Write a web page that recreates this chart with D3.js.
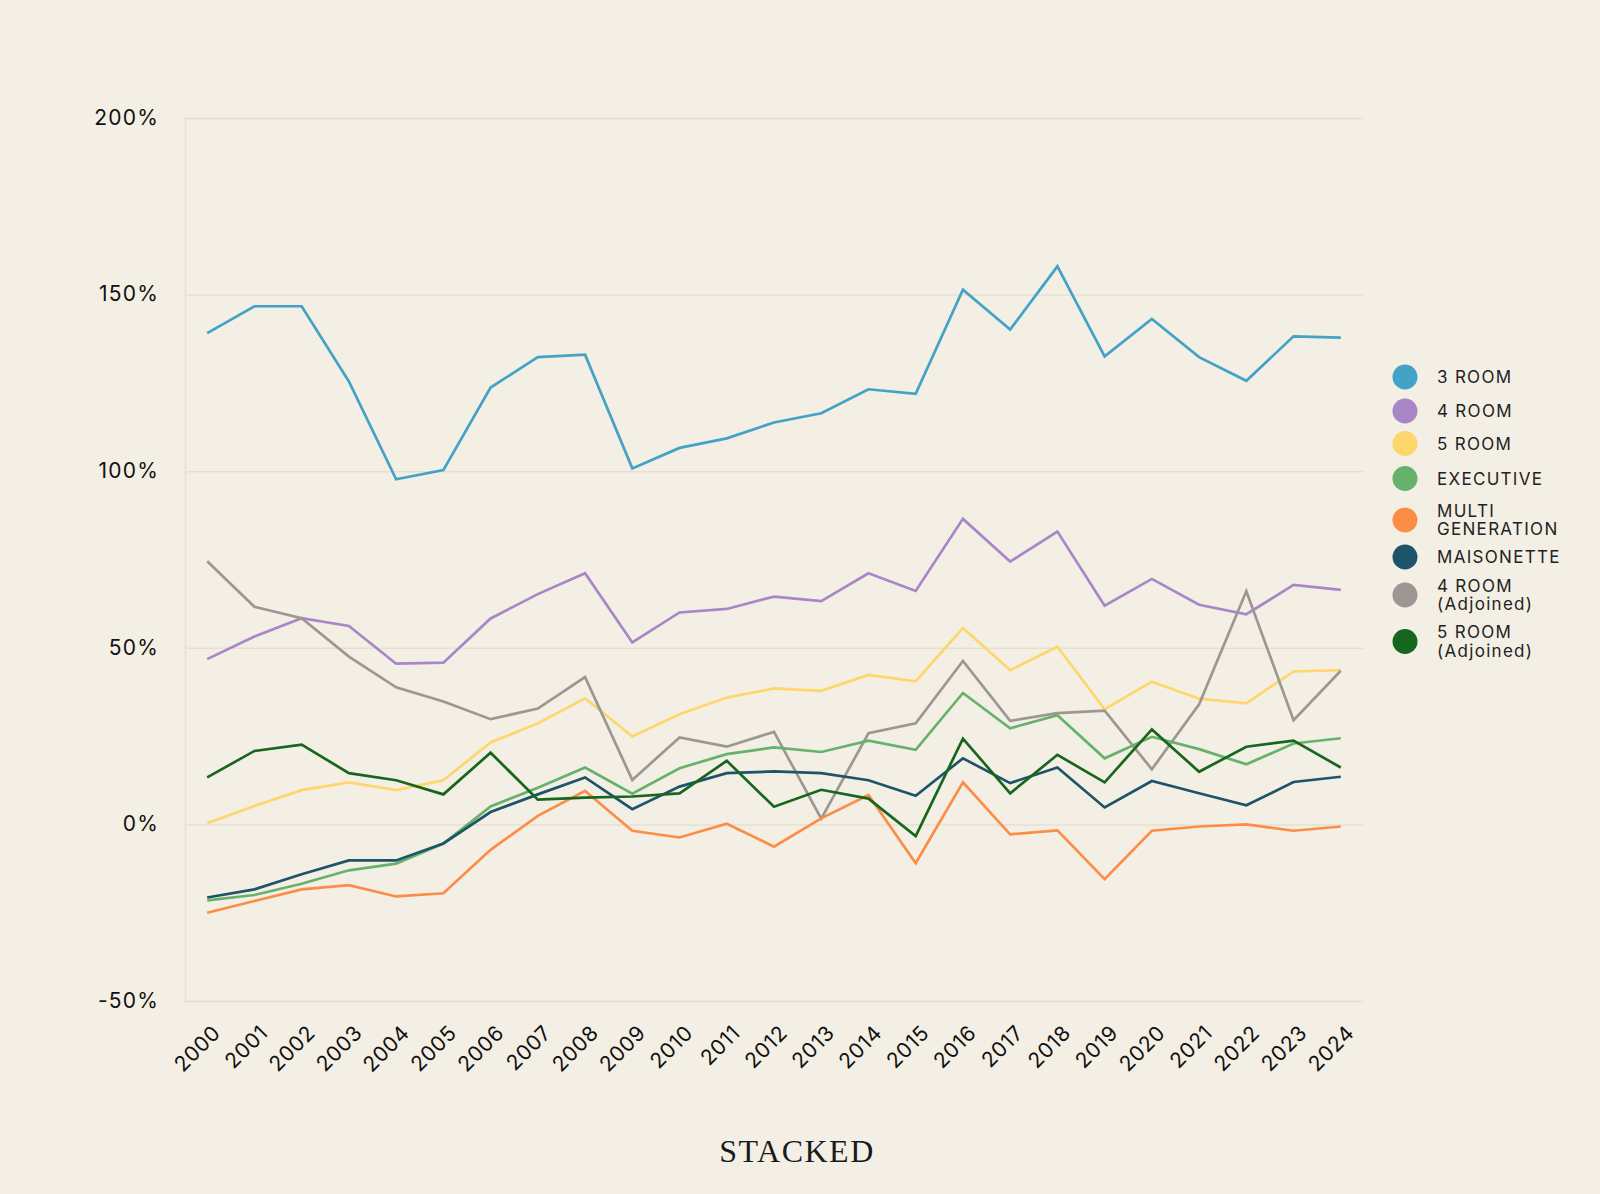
<!DOCTYPE html>
<html>
<head>
<meta charset="utf-8">
<script src="https://cdn.jsdelivr.net/npm/d3@7"></script>
<style>
  html, body { margin: 0; padding: 0; background: #f4efe4; }
  svg { display: block; }
</style>
</head>
<body>
<svg id="chart" width="1600" height="1194"></svg>
<script>
const years = ["2000","2001","2002","2003","2004","2005","2006","2007","2008","2009","2010","2011","2012","2013","2014","2015","2016","2017","2018","2019","2020","2021","2022","2023","2024"];
const yTicks = [-50, 0, 50, 100, 150, 200];

const room3 = [139.1,146.7,146.7,125.4,97.7,100.3,123.7,132.3,133.0,100.8,106.6,109.3,113.8,116.4,123.2,121.9,151.4,140.1,158.0,132.5,143.1,132.3,125.6,138.2,137.8];
const room4 = [46.8,53.2,58.4,56.2,45.5,45.8,58.3,65.2,71.1,51.5,60.0,61.0,64.5,63.2,71.1,66.1,86.5,74.4,82.9,61.9,69.5,62.2,59.5,67.8,66.4];
const room5 = [0.3,5.2,9.7,11.9,9.7,12.5,23.2,28.6,35.7,24.9,31.2,35.9,38.5,37.8,42.3,40.5,55.6,43.7,50.3,32.6,40.4,35.6,34.3,43.3,43.7];
const executive = [-21.5,-20.0,-16.8,-13.0,-11.1,-5.4,5.1,10.4,16.1,8.7,15.9,19.9,21.8,20.5,23.7,21.1,37.2,27.2,30.9,18.7,24.8,21.3,17.0,22.9,24.4];
const multiGen = [-25.0,-21.7,-18.4,-17.2,-20.4,-19.5,-7.2,2.4,9.5,-1.8,-3.7,0.2,-6.3,1.7,8.3,-11.0,11.9,-2.8,-1.7,-15.5,-1.8,-0.6,0.0,-1.8,-0.6];
const maisonette = [-20.7,-18.4,-14.1,-10.2,-10.2,-5.4,3.5,8.5,13.3,4.3,10.7,14.5,15.0,14.5,12.5,8.1,18.7,11.7,16.1,4.8,12.3,8.8,5.4,12.0,13.5];
const room4Adj = [74.5,61.6,58.4,47.5,38.8,34.8,29.8,32.8,41.7,12.6,24.6,22.0,26.2,1.6,25.8,28.6,46.3,29.3,31.5,32.2,15.6,34.0,66.0,29.5,43.5];
const room5Adj = [13.3,20.8,22.6,14.5,12.5,8.5,20.3,7.0,7.6,7.9,8.8,18.0,5.0,9.8,7.3,-3.3,24.3,8.8,19.7,11.9,26.9,14.9,22.0,23.7,16.1];

const seriesNames = ["3 ROOM","4 ROOM","5 ROOM","EXECUTIVE","MULTI\nGENERATION","MAISONETTE","4 ROOM\n(Adjoined)","5 ROOM\n(Adjoined)"];
const seriesValues = [room3, room4, room5, executive, multiGen, maisonette, room4Adj, room5Adj];
const seriesColors = ["#43a2c6","#a886c8","#fdd76b","#66b26c","#fc8d47","#1e5469","#9d9794","#17661f"];
// draw order (bottom to top)
const drawOrder = [0,1,2,6,3,5,4,7];

const svg = d3.select("#chart");
const plotLeft = 185, plotRight = 1363, plotTop = 118, plotBottom = 1001;

const x = d3.scalePoint().domain(years).range([plotLeft, plotRight]).padding(0.47);
const y = d3.scaleLinear().domain([-50, 200]).range([plotBottom, plotTop]);

const gridColor = "#e6e0d4";

// gridlines
const yAxis = d3.axisLeft(y).tickValues(yTicks).tickSize(-(plotRight - plotLeft)).tickFormat(d => d + "%");
const gy = svg.append("g").attr("transform", `translate(${plotLeft},0)`).call(yAxis);
gy.select(".domain").attr("stroke", gridColor).attr("stroke-width", 1.5);
gy.selectAll(".tick line").attr("stroke", gridColor).attr("stroke-width", 1.5);
gy.selectAll(".tick text")
  .attr("x", -26)
  .attr("dy", "0.3em")
  .attr("fill", "#111")
  .style("font-family", "Inter, 'Noto Sans', sans-serif")
  .style("font-size", "21px")
  .style("letter-spacing", "1.2px");

// x axis labels
const xAxis = d3.axisBottom(x).tickSize(0).tickPadding(0);
const gx = svg.append("g").attr("transform", `translate(0,${plotBottom})`).call(xAxis);
gx.select(".domain").remove();
gx.selectAll(".tick text")
  .attr("text-anchor", "end")
  .attr("transform", "translate(9,28) rotate(-45)")
  .attr("y", 0)
  .attr("dy", "0.35em")
  .attr("fill", "#111")
  .style("font-family", "Inter, 'Noto Sans', sans-serif")
  .style("font-size", "21px")
  .style("letter-spacing", "0.6px");

// lines
const line = d3.line().x((d, i) => x(years[i])).y(d => y(d));
const lines = svg.append("g");
drawOrder.forEach(k => {
  lines.append("path")
    .datum(seriesValues[k])
    .attr("fill", "none")
    .attr("stroke", seriesColors[k])
    .attr("stroke-width", 2.7)
    .attr("stroke-linejoin", "miter")
    .attr("d", line);
});

// legend
const legendY = [377, 411, 443.5, 478.5, 520, 557, 595, 641.5];
const lg = svg.append("g");
seriesNames.forEach((name, i) => {
  const g = lg.append("g").attr("transform", `translate(1405,${legendY[i]})`);
  g.append("circle").attr("r", 12.5).attr("fill", seriesColors[i]);
  const parts = name.split("\n");
  const lh = 18.5;
  const t = g.append("text")
    .attr("x", 32)
    .attr("fill", "#222")
    .style("font-family", "Inter, 'Noto Sans', sans-serif")
    .style("font-size", "17px")
    .style("letter-spacing", "1.3px");
  parts.forEach((p, j) => {
    const off = (j - (parts.length - 1) / 2) * lh;
    t.append("tspan").attr("x", 32).attr("y", off).attr("dy", "0.36em").text(p);
  });
});

// footer
svg.append("text")
  .attr("x", 797)
  .attr("y", 1162)
  .attr("text-anchor", "middle")
  .attr("fill", "#1a1a1a")
  .style("font-family", "'Liberation Serif', 'DejaVu Serif', serif")
  .style("font-size", "32px")
  .style("letter-spacing", "1.5px")
  .text("STACKED");
</script>
</body>
</html>
